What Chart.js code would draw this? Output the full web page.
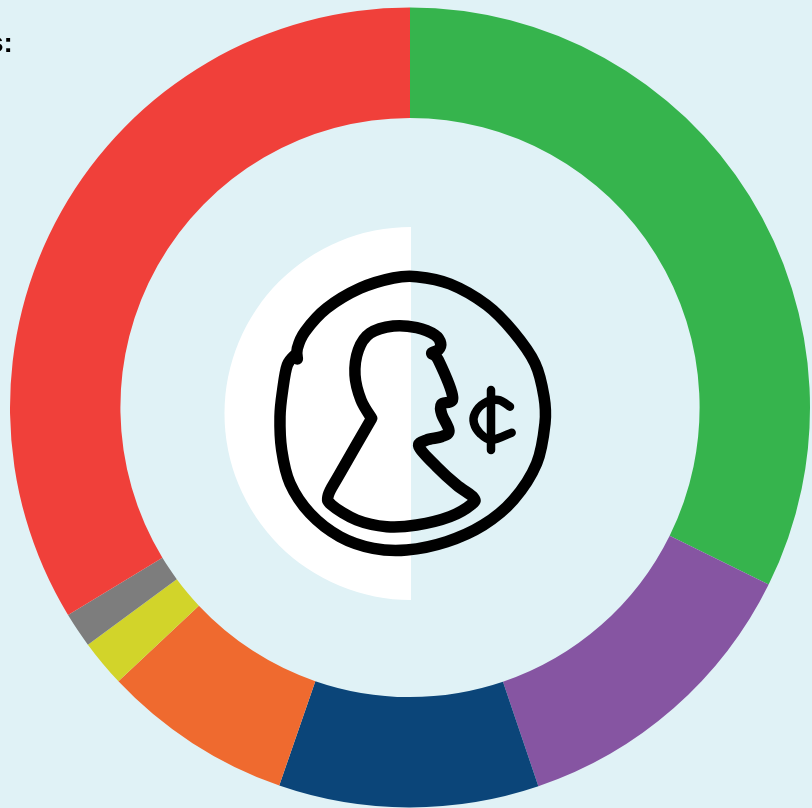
<!DOCTYPE html>
<html><head><meta charset="utf-8">
<style>
html,body{margin:0;padding:0;background:#e0f2f6;overflow:hidden}
#wrap{position:relative;width:812px;height:808px}
canvas{position:absolute;left:0;top:0}
#note{position:absolute;left:-12px;top:28px;font:bold 28px "Liberation Sans",sans-serif;color:#000;width:24px;text-align:right;line-height:30px}
</style>
<script src="https://cdn.jsdelivr.net/npm/chart.js@4"></script>
</head><body><div id="wrap"><canvas id="c" width="812" height="808"></canvas><div id="note">s:</div></div>
<script>
const categories=['Green','Purple','Blue','Orange','Yellow','Gray','Red'];
const values=[32.3,12.5,10.5,7.7,1.9,1.42,33.68];
const colors=['#36b44d','#8655a2','#0b4579','#ef6a2f','#d2d42a','#7d7d7d','#f0403a'];

const coinPath=[[112,297],[112,265],[135,215],[200,145],[300,85],[400,54],[470,50],[570,72],[680,135],[760,215],[825,310],[852,410],[855,490],[830,610],[760,720],[670,795],[560,845],[440,870],[340,865],[240,830],[150,760],[90,670],[65,570],[60,470],[68,390],[82,315],[108,282]];
const headPath=[[335,475],[303,420],[285,345],[295,270],[330,220],[400,198],[470,203],[525,225],[542,250],[535,270],[515,280],[535,300],[578,412],[545,432],[545,462],[567,512],[545,530],[500,540],[477,560],[530,620],[590,675],[640,712],[636,732],[570,770],[470,795],[380,800],[290,780],[215,735],[205,705],[240,640],[335,475]];
const centC=[[750,440],[715,420],[672,430],[645,460],[642,490],[660,520],[695,540],[755,518]];
const centBar=[[693,390],[693,570]];

function smooth(ctx,pts){
  const P=pts.map(p=>[260+p[0]/3,260+p[1]/3]);
  ctx.beginPath();ctx.moveTo(P[0][0],P[0][1]);
  for(let i=0;i<P.length-1;i++){
    const a=P[Math.max(i-1,0)],b=P[i],c=P[i+1],d=P[Math.min(i+2,P.length-1)];
    ctx.bezierCurveTo(b[0]+(c[0]-a[0])/6,b[1]+(c[1]-a[1])/6,c[0]-(d[0]-b[0])/6,c[1]-(d[1]-b[1])/6,c[0],c[1]);
  }
  ctx.stroke();
}
const decor={id:'decor',
  beforeDatasetsDraw(chart){const ctx=chart.ctx;ctx.save();ctx.fillStyle='#fff';ctx.beginPath();ctx.arc(411,413.5,186.5,Math.PI/2,Math.PI*1.5);ctx.closePath();ctx.fill();ctx.restore();},
  afterDatasetsDraw(chart){const ctx=chart.ctx;ctx.save();ctx.strokeStyle='#000';ctx.lineCap='round';ctx.lineJoin='round';
    ctx.lineWidth=11.5;smooth(ctx,coinPath);smooth(ctx,headPath);
    ctx.lineWidth=8.5;smooth(ctx,centC);smooth(ctx,centBar);ctx.restore();}
};
new Chart(document.getElementById('c'),{type:'doughnut',
  data:{labels:categories,datasets:[{data:values,backgroundColor:colors,borderWidth:0}]},
  options:{responsive:false,animation:false,cutout:'72.4%',
    layout:{padding:{left:10,right:2,top:7.5,bottom:0.5}},
    plugins:{legend:{display:false},tooltip:{enabled:false}}},
  plugins:[decor]});
</script></body></html>
